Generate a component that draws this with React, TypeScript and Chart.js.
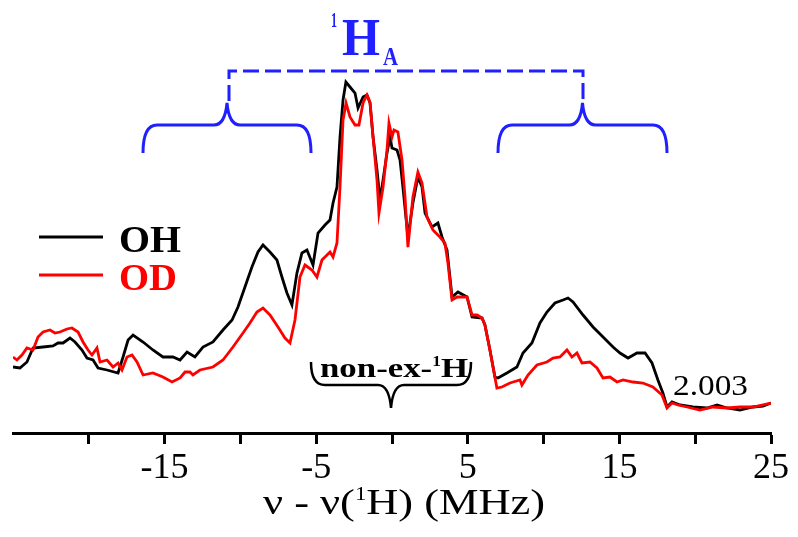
import React, { useEffect, useRef } from "react";
import { Chart, registerables } from "chart.js";

Chart.register(...registerables);

// ---- data (x in MHz, intensity in arbitrary units) ----
const seriesNames = ["OH", "OD"];
const seriesColors = ["#000000", "#ff0000"];
const tickLabels = [-15, -5, 5, 15, 25];

const ohX = [
  -25.0, -24.54, -24.08, -23.68, -23.02, -22.36, -22.03, -21.7, -21.24, -20.91, -20.45, -20.12, -19.72, -19.39,
  -18.8, -18.07, -17.74, -17.41, -17.08, -16.42, -15.77, -15.11, -14.45, -13.98, -13.52, -13.0, -12.47, -11.81,
  -11.15, -10.55, -10.16, -9.7, -9.24, -8.84, -8.51, -8.05, -7.59, -7.26, -6.93, -6.6, -6.27, -5.94, -5.61, -5.21,
  -4.88, -4.42, -4.09, -3.89, -3.63, -3.43, -3.23, -3.04, -2.77, -2.44, -2.24, -1.91, -1.65, -1.45, -1.25, -0.99,
  -0.79, -0.59, -0.33, -0.13, 0.0, 0.33, 0.53, 0.72, 1.05, 1.38, 1.71, 1.98, 2.18, 2.64, 3.03, 3.3, 3.63, 3.96,
  4.35, 4.95, 5.28, 5.94, 6.13, 6.46, 6.79, 6.99, 7.58, 8.24, 8.64, 9.23, 9.76, 10.22, 10.75, 11.28, 11.61, 11.94,
  12.6, 13.26, 13.92, 14.58, 15.04, 15.57, 16.16, 16.69, 17.15, 17.54, 17.87, 18.14, 18.47, 19.0, 19.85, 20.78,
  21.44, 22.1, 22.95, 23.81, 24.47, 25.0,
];
const ohY = [
  16.5, 16.25, 17.75, 21.25, 21.5, 21.75, 22.5, 22.5, 23.75, 22.75, 20.75, 18.75, 18.25, 16.25,
  15.75, 15.0, 19.0, 23.25, 24.5, 22.75, 20.75, 19.0, 19.0, 18.25, 20.25, 19.0, 21.5, 22.75,
  25.75, 28.25, 31.5, 36.5, 41.5, 45.25, 47.0, 45.25, 43.25, 39.0, 35.0, 32.0, 40.0, 45.0, 45.75, 42.0,
  50.0, 52.0, 53.25, 57.5, 61.5, 74.0, 83.25, 87.75, 86.5, 85.0, 81.25, 84.0, 84.5, 82.5, 74.0, 65.75,
  58.25, 63.25, 70.0, 74.0, 71.25, 70.75, 68.25, 61.5, 49.0, 57.5, 64.0, 61.5, 55.0, 51.5, 52.5, 49.0, 45.75, 34.0,
  35.25, 34.0, 29.0, 28.75, 27.0, 20.75, 14.0, 13.75, 15.0, 16.5, 20.0, 22.5, 27.5, 30.25, 32.5, 33.25, 33.75, 32.75,
  29.5, 26.5, 24.0, 21.5, 20.0, 18.75, 20.0, 20.0, 17.5, 13.25, 10.0, 6.5, 7.75, 7.0, 6.5, 6.25,
  7.0, 6.25, 5.75, 6.5, 6.75, 7.5,
];

const odX = [
  -25.0, -24.74, -24.41, -24.08, -23.68, -23.35, -23.02, -22.56, -22.23, -21.9, -21.44, -21.11, -20.71, -20.38,
  -20.05, -19.79, -19.46, -19.26, -18.8, -18.4, -18.07, -17.81, -17.48, -17.15, -16.82, -16.42, -15.77, -15.11,
  -14.51, -13.98, -13.65, -13.33, -13.13, -12.67, -11.81, -11.15, -10.49, -9.83, -9.37, -8.91, -8.51, -8.05,
  -7.52, -7.06, -6.73, -6.4, -6.07, -5.74, -5.28, -4.95, -4.62, -4.42, -4.09, -3.89, -3.63, -3.43, -3.23, -3.03,
  -2.77, -2.44, -2.18, -1.91, -1.65, -1.45, -1.25, -0.99, -0.86, -0.59, -0.33, -0.2, 0.0, 0.13, 0.39, 0.66, 0.86,
  1.05, 1.38, 1.71, 1.98, 2.31, 2.7, 3.16, 3.49, 3.69, 3.96, 4.29, 4.95, 5.28, 5.61, 5.94, 6.13, 6.46, 6.92, 7.25,
  7.78, 8.44, 8.57, 8.97, 9.56, 10.22, 10.62, 11.08, 11.54, 11.87, 12.2, 12.53, 13.06, 13.52, 13.92, 14.38, 14.84,
  15.24, 15.9, 16.55, 17.21, 17.81, 18.14, 18.47, 18.86, 19.46, 20.31, 21.17, 22.1, 22.95, 23.81, 25.0,
];
const odY = [
  19.0, 18.25, 19.5, 21.25, 20.75, 24.0, 25.25, 25.75, 25.0, 25.25, 26.0, 26.25, 25.25, 22.75,
  20.75, 19.5, 21.25, 17.75, 18.25, 16.5, 17.5, 15.75, 19.0, 19.5, 17.75, 14.5, 15.0, 14.0,
  12.75, 13.75, 15.25, 15.25, 14.5, 15.75, 16.5, 18.25, 21.5, 25.0, 27.5, 30.25, 31.25, 29.5,
  26.5, 23.75, 22.5, 28.25, 39.0, 42.0, 40.75, 39.0, 43.25, 44.0, 45.25, 44.0, 47.5, 61.5, 78.25, 82.5,
  79.0, 77.0, 77.0, 82.5, 84.5, 82.75, 74.0, 63.25, 55.0, 61.5, 70.75, 77.5, 74.0, 75.75, 75.25, 68.25, 59.0,
  46.5, 59.0, 65.25, 62.5, 54.0, 50.75, 49.0, 47.5, 42.5, 33.25, 34.0, 34.0, 29.5, 29.5, 28.75, 27.0, 20.75, 11.25, 11.5,
  12.5, 13.25, 12.0, 14.5, 17.0, 17.75, 18.75, 19.0, 20.75, 19.0, 20.0, 17.5, 17.75, 16.25, 13.75, 14.0, 12.75,
  13.25, 12.75, 12.5, 11.5, 9.5, 6.25, 7.5, 7.0, 6.5, 5.75, 6.5, 6.25, 6.5, 6.5, 7.5,
];

const SERIF = "'Liberation Serif', 'Times New Roman', serif";
const BLUE = "#1f1fff";

type Run = { t: string; font: string; dy: number };

function drawRuns(ctx: CanvasRenderingContext2D, runs: Run[], x: number, baseline: number, width: number, color: string) {
  ctx.save();
  ctx.fillStyle = color;
  ctx.textAlign = "left";
  ctx.textBaseline = "alphabetic";
  let total = 0;
  const ws = runs.map((r) => {
    ctx.font = r.font;
    const w = ctx.measureText(r.t).width;
    total += w;
    return w;
  });
  const s = width / total;
  ctx.translate(x, baseline);
  ctx.scale(s, 1);
  let cx = 0;
  runs.forEach((r, i) => {
    ctx.font = r.font;
    ctx.fillText(r.t, cx, r.dy);
    cx += ws[i];
  });
  ctx.restore();
}

function brace(ctx: CanvasRenderingContext2D, x0: number, x1: number, yEnd: number, yBar: number, yTip: number) {
  const c = (x0 + x1) / 2;
  const r = 14;
  ctx.beginPath();
  ctx.moveTo(x0, yEnd);
  ctx.quadraticCurveTo(x0, yBar, x0 + r, yBar);
  ctx.lineTo(c - 13, yBar);
  ctx.quadraticCurveTo(c - 2, yBar, c, yTip);
  ctx.quadraticCurveTo(c + 2, yBar, c + 13, yBar);
  ctx.lineTo(x1 - r, yBar);
  ctx.quadraticCurveTo(x1, yBar, x1, yEnd);
  ctx.stroke();
}

const annotations = {
  id: "annotations",
  afterDraw(chart: Chart) {
    const ctx = chart.ctx;
    ctx.save();
    // 1H_A label
    drawRuns(ctx, [{ t: "1", font: `bold 20px ${SERIF}`, dy: 0 }], 331, 27, 6, BLUE);
    drawRuns(ctx, [{ t: "H", font: `bold 52px ${SERIF}`, dy: 0 }], 342, 55, 38, BLUE);
    drawRuns(ctx, [{ t: "A", font: `bold 26px ${SERIF}`, dy: 0 }], 383, 65, 15, BLUE);

    // dashed bracket
    ctx.strokeStyle = BLUE;
    ctx.lineWidth = 3;
    ctx.setLineDash([16, 6]);
    ctx.beginPath();
    ctx.moveTo(229, 101);
    ctx.lineTo(229, 71);
    ctx.lineTo(583, 71);
    ctx.lineTo(583, 99);
    ctx.stroke();
    ctx.setLineDash([]);

    // braces
    ctx.lineWidth = 3;
    brace(ctx, 143, 311, 153, 125, 103);
    brace(ctx, 498, 667, 153, 125, 103);

    // non-ex brace
    ctx.strokeStyle = "#000";
    ctx.lineWidth = 2.5;
    brace(ctx, 311, 471, 362, 385, 408);

    drawRuns(
      ctx,
      [
        { t: "non-ex-", font: `bold 28px ${SERIF}`, dy: 0 },
        { t: "1", font: `bold 14px ${SERIF}`, dy: -11 },
        { t: "H", font: `bold 28px ${SERIF}`, dy: 0 },
      ],
      320,
      377,
      148,
      "#000"
    );

    drawRuns(ctx, [{ t: "2.003", font: `30px ${SERIF}`, dy: 0 }], 673, 395, 75, "#000");

    // legend
    const ds = chart.data.datasets;
    const legendY = [237, 275];
    const legendBase = [252, 290];
    const legendW = [62, 58];
    ds.forEach((d, i) => {
      ctx.strokeStyle = d.borderColor as string;
      ctx.lineWidth = 3;
      ctx.beginPath();
      ctx.moveTo(39, legendY[i]);
      ctx.lineTo(103, legendY[i]);
      ctx.stroke();
      drawRuns(ctx, [{ t: String(d.label), font: `bold 38px ${SERIF}`, dy: 0 }], 119, legendBase[i], legendW[i], d.borderColor as string);
    });

    // axis title
    drawRuns(
      ctx,
      [
        { t: "\u03bd - \u03bd(", font: `35px ${SERIF}`, dy: 0 },
        { t: "1", font: `18px ${SERIF}`, dy: -14 },
        { t: "H) (MHz)", font: `35px ${SERIF}`, dy: 0 },
      ],
      263,
      514,
      282,
      "#000"
    );
    ctx.restore();
  },
};

export default function App() {
  const ref = useRef<HTMLCanvasElement>(null);
  useEffect(() => {
    document.body.style.margin = "0";
    const chart = new Chart(ref.current as HTMLCanvasElement, {
      type: "line",
      data: {
        datasets: [
          {
            label: seriesNames[0],
            data: ohX.map((x, i) => ({ x, y: ohY[i] })),
            borderColor: seriesColors[0],
            borderWidth: 2.8,
            pointRadius: 0,
            tension: 0,
            order: 2,
          },
          {
            label: seriesNames[1],
            data: odX.map((x, i) => ({ x, y: odY[i] })),
            borderColor: seriesColors[1],
            borderWidth: 2.8,
            pointRadius: 0,
            tension: 0,
            order: 1,
          },
        ],
      },
      options: {
        responsive: false,
        animation: false,
        layout: { padding: { left: 13, right: 27, top: 33, bottom: 0 } },
        plugins: { legend: { display: false }, tooltip: { enabled: false }, title: { display: false } },
        scales: {
          x: {
            type: "linear",
            min: -25,
            max: 25,
            afterFit: (s: any) => {
              s.height = 104;
            },
            ticks: {
              stepSize: 5,
              autoSkip: false,
              maxRotation: 0,
              padding: 3,
              color: "#000",
              font: { family: SERIF, size: 36 },
              callback: (v: any) => (tickLabels.includes(Number(v)) ? String(v) : ""),
            },
            grid: {
              drawOnChartArea: false,
              drawTicks: true,
              tickLength: 11,
              tickWidth: 3,
              tickColor: (c: any) => (c.tick && c.tick.value === -25 ? "rgba(0,0,0,0)" : "#000"),
            },
            border: { display: true, width: 3, color: "#000" },
          },
          y: { type: "linear", min: 0, max: 100, display: false },
        },
      },
      plugins: [annotations as any],
    });
    return () => chart.destroy();
  }, []);
  return (
    <div style={{ position: "fixed", left: 0, top: 0, width: 798, height: 537, background: "#fff" }}>
      <canvas ref={ref} width={798} height={537} style={{ display: "block" }} />
    </div>
  );
}
